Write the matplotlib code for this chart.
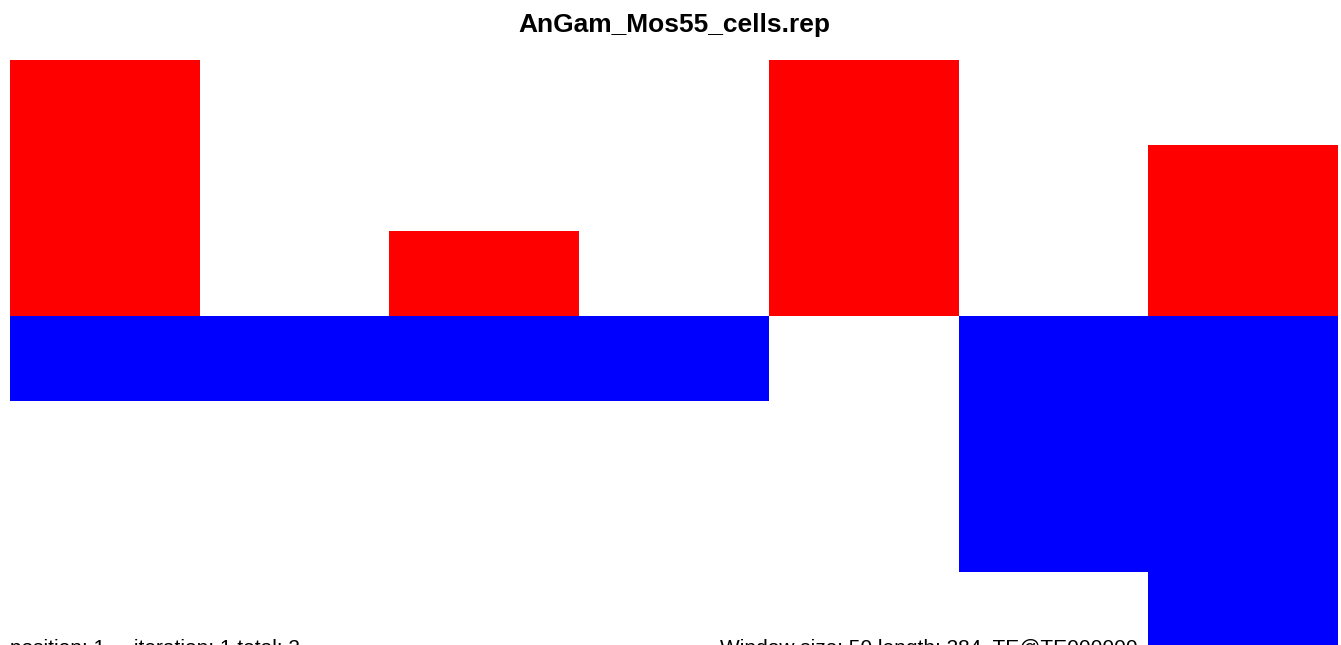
import matplotlib
matplotlib.use("Agg")
import matplotlib.pyplot as plt
import numpy as np

plt.rcParams['font.family'] = ['Liberation Sans', 'DejaVu Sans']

title = "AnGam_Mos55_cells.rep"
positions = [0, 1, 2, 3, 4, 5, 6]
red_values = [3, 0, 1, 0, 3, 0, 2]
blue_values = [-1, -1, -1, -1, 0, -3, -4]
left_note = "position: 1     iteration: 1 total: 2"
right_note = "Window size: 50 length: 284  TE@TE000000   TA-Fl 00.1 00.1"

W, H = 1341, 645
fig = plt.figure(figsize=(W / 100, H / 100), dpi=100)

# bottom notes drawn under the axes
fig.text(10 / W, 1 - 639 / H, left_note, ha='left', va='top', fontsize=15, zorder=0)
fig.text(720 / W, 1 - 639 / H, right_note, ha='left', va='top', fontsize=15, zorder=0)

left, right, top, bottom = 10, 1338, 60, 645
ax = fig.add_axes([left / W, 1 - bottom / H, (right - left) / W, (bottom - top) / H])
ax.patch.set_alpha(0)
ax.set_zorder(1)
unit = (316 - 60) / 3.0
ax.set_xlim(-0.5, 6.5)
ax.set_ylim(-(645 - 316) / unit, 3)
ax.bar(positions, red_values, width=1.0, color='#ff0000', linewidth=0)
ax.bar(positions, blue_values, width=1.0, color='#0000ff', linewidth=0)
ax.axis('off')

fig.text(674 / W, 1 - 25 / H, title, ha='center', va='center', fontsize=19, fontweight='bold')

fig.savefig("out.png", dpi=100)
